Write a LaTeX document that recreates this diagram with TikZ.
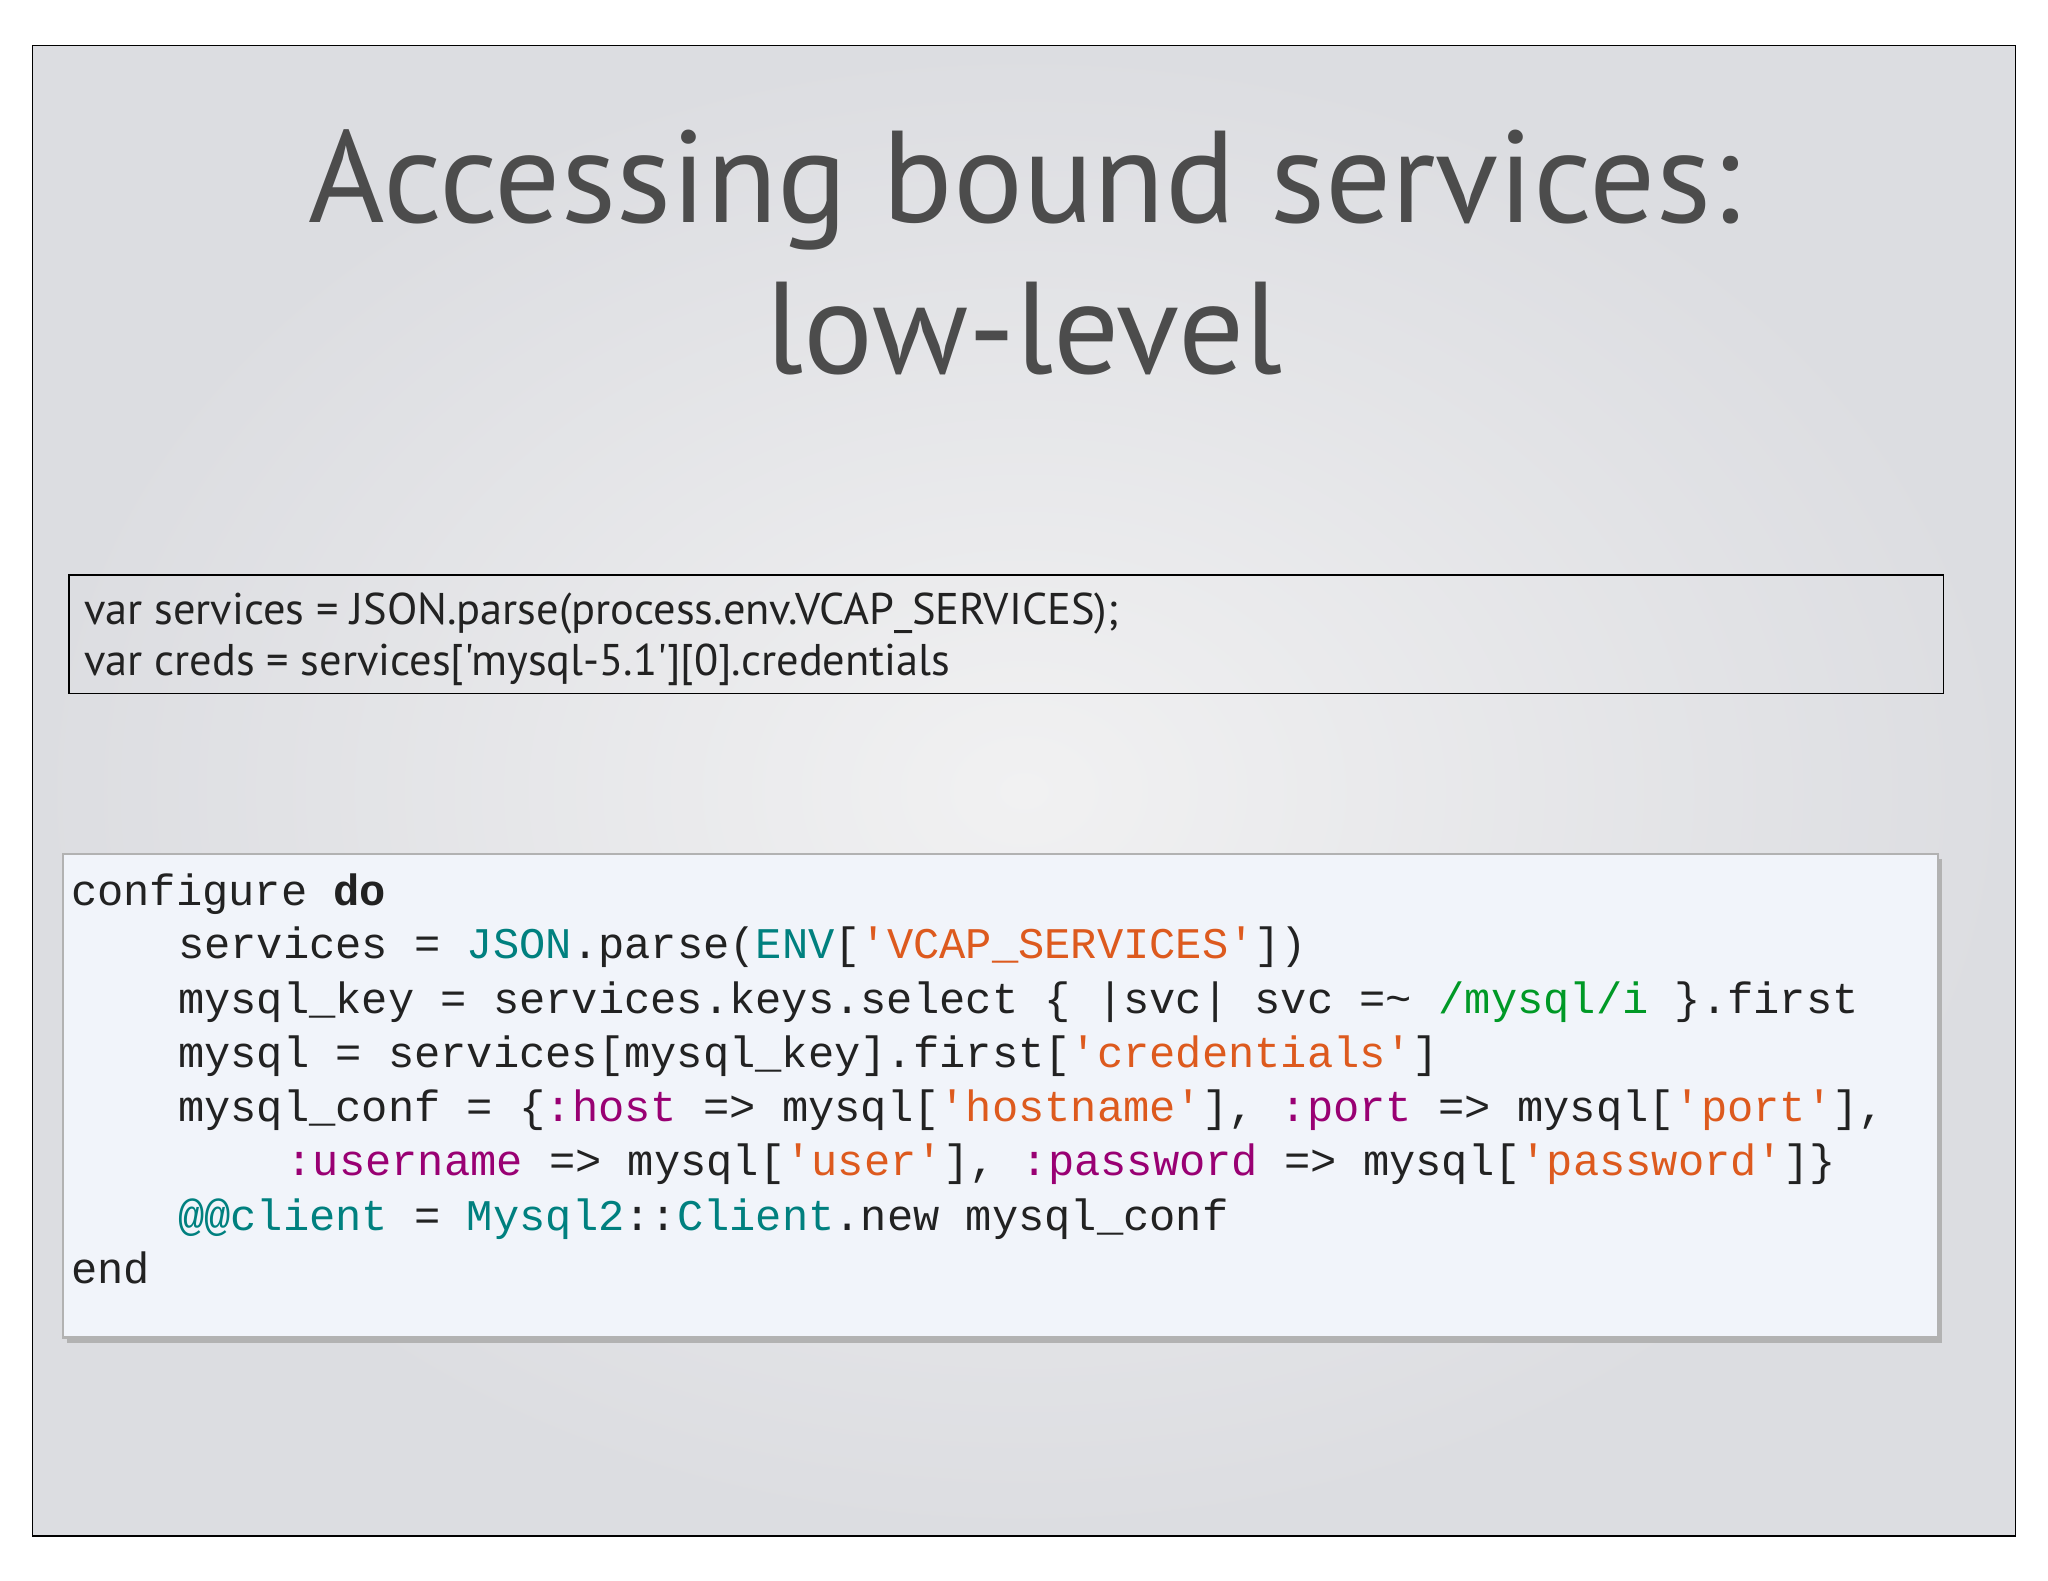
\documentclass[tikz,border=0pt]{standalone}
\usepackage{fontspec}
\setmainfont{Lato}
\setmonofont{Liberation Mono}
\newfontfamily\gill{PT Sans}
\definecolor{bgA}{HTML}{DCDDE1}
\definecolor{bgB}{HTML}{F1F1F2}
\definecolor{codebg}{HTML}{F1F4FA}
\definecolor{teal}{HTML}{00807F}
\definecolor{strc}{HTML}{DD5A1E}
\definecolor{symc}{HTML}{990073}
\definecolor{rxc}{HTML}{009926}
\definecolor{txt}{HTML}{222222}
\newcommand\kT[1]{\textcolor{teal}{#1}}
\newcommand\kS[1]{\textcolor{strc}{#1}}
\newcommand\kP[1]{\textcolor{symc}{#1}}
\newcommand\kR[1]{\textcolor{rxc}{#1}}
\begin{document}
\begin{tikzpicture}[x=0.5pt,y=-0.5pt,
  codeline/.style={anchor=base west,inner sep=0,font=\ttfamily\fontsize{16.75}{18}\selectfont,text=txt},
  boxline/.style={anchor=base west,inner sep=0,font=\gill\fontsize{17}{18}\selectfont,text=txt}]
\useasboundingbox (0,0) rectangle (1568,1210);
\fill[white] (0,0) rectangle (1568,1210);
\shade[inner color=bgB,outer color=bgA] (25,35) rectangle (1543,1176);
\draw[black,line width=0.6pt] (25,35) rectangle (1543,1176);
\node[font=\gill\fontsize{50}{58}\selectfont,text=black!70,align=center,anchor=north] (title) at (784,92) {Accessing bound services:\\low-level};
\draw[black,line width=0.7pt] (53,440) rectangle (1488,531);
\node[boxline] (b1) at (64,478) {var services = JSON.parse(process.env.VCAP\_SERVICES);};
\node[boxline] (b2) at (64,517) {var creds = services['mysql-5.1'][0].credentials};
\fill[black!30] (51,658) rectangle (1487,1028);
\fill[codebg] (48,654) rectangle (1484,1024);
\draw[black!30,line width=0.8pt] (48,654) rectangle (1484,1024);
\node[codeline] (c1) at (54,693) {configure \textbf{do}};
\node[codeline] (c2) at (136,734) {services = \kT{JSON}.parse(\kT{ENV}[\kS{'VCAP\_SERVICES'}])};
\node[codeline] (c3) at (136,776) {mysql\_key = services.keys.select \{ |svc| svc =\textasciitilde{} \kR{/mysql/i} \}.first};
\node[codeline] (c4) at (136,817) {mysql = services[mysql\_key].first[\kS{'credentials'}]};
\node[codeline] (c5) at (136,859) {mysql\_conf = \{\kP{:host} => mysql[\kS{'hostname'}], \kP{:port} => mysql[\kS{'port'}],};
\node[codeline] (c6) at (219,900) {\kP{:username} => mysql[\kS{'user'}], \kP{:password} => mysql[\kS{'password'}]\}};
\node[codeline] (c7) at (136,942) {\kT{@@client} = \kT{Mysql2}::\kT{Client}.new mysql\_conf};
\node[codeline] (c8) at (54,983) {end};
\end{tikzpicture}
\end{document}
